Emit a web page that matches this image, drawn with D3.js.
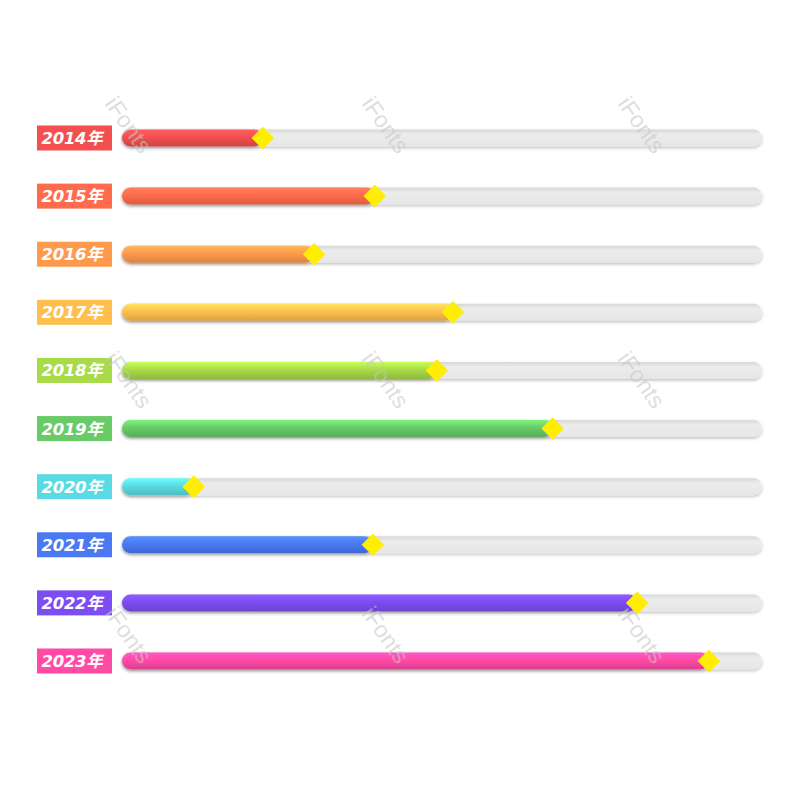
<!DOCTYPE html>
<html><head><meta charset="utf-8">
<script src="https://cdn.jsdelivr.net/npm/d3@7"></script>
<style>html,body{margin:0;padding:0;background:#fff;}</style>
</head><body>
<svg id="chart" width="800" height="800"></svg>
<script>
const years = ["2014年","2015年","2016年","2017年","2018年","2019年","2020年","2021年","2022年","2023年"];
const values = [22, 39.5, 30, 51.7, 49.2, 67.3, 11.2, 39.2, 80.5, 91.7];
const colors = ["#f34f50","#ff6b4c","#ff9a4c","#ffbf4e","#a8db47","#68cb68","#5adbe3","#4a79f3","#7c4df3","#ff4aa6"];
const watermarks = [[127,126],[384,126],[640,126],[127,381],[384,381],[640,381],[127,636],[384,636],[640,636]];

const svg = d3.select("#chart");
const defs = svg.append("defs");
const sh = defs.append("filter").attr("id","shadow").attr("x","-10%").attr("y","-60%").attr("width","120%").attr("height","250%");
sh.append("feDropShadow").attr("dx",0).attr("dy",1.5).attr("stdDeviation",1.5).attr("flood-color","#000").attr("flood-opacity",0.25);

colors.forEach((c,i)=>{
  const g = defs.append("linearGradient").attr("id","g"+i).attr("x1",0).attr("y1",0).attr("x2",0).attr("y2",1);
  g.append("stop").attr("offset","0%").attr("stop-color", d3.color(c).brighter(0.5));
  g.append("stop").attr("offset","45%").attr("stop-color", c);
  g.append("stop").attr("offset","100%").attr("stop-color", d3.color(c).darker(0.45));
});
const tg = defs.append("linearGradient").attr("id","tg").attr("x1",0).attr("y1",0).attr("x2",0).attr("y2",1);
tg.append("stop").attr("offset","0%").attr("stop-color","#d8d8d8");
tg.append("stop").attr("offset","30%").attr("stop-color","#ececec");
tg.append("stop").attr("offset","100%").attr("stop-color","#e6e6e6");

const x = d3.scaleLinear().domain([0,100]).range([122,762]);
const y = d3.scalePoint().domain(years).range([138,661]);
const bh = 17;

const rows = svg.append("g").selectAll("g").data(years).join("g");

rows.append("rect").attr("x",x(0)).attr("y",d=>y(d)-bh/2).attr("width",x(100)-x(0)).attr("height",bh)
  .attr("rx",bh/2).attr("fill","url(#tg)").attr("filter","url(#shadow)");

rows.append("rect").attr("x",x(0)).attr("y",d=>y(d)-bh/2).attr("width",(d,i)=>x(values[i])-x(0)).attr("height",bh)
  .attr("rx",bh/2).attr("fill",(d,i)=>`url(#g${i})`).attr("filter","url(#shadow)");

rows.append("rect").attr("x",37).attr("y",d=>y(d)-12.5).attr("width",75).attr("height",25)
  .attr("fill",(d,i)=>colors[i]);

rows.append("text").attr("x",72).attr("y",d=>y(d)+6)
  .attr("text-anchor","middle").attr("fill","#fff")
  .attr("font-family","DejaVu Sans, Noto Sans CJK SC, sans-serif").attr("font-weight","bold").attr("font-style","italic")
  .attr("font-size",16.5).attr("letter-spacing",-0.3).text(d=>d);

rows.append("rect").attr("x",-8).attr("y",-8).attr("width",16).attr("height",16)
  .attr("transform",(d,i)=>`translate(${x(values[i])},${y(d)}) rotate(45)`)
  .attr("fill","#ffee00");

// watermarks (on top, faint)
svg.append("g").selectAll("text").data(watermarks).join("text")
  .attr("transform", d=>`translate(${d[0]},${d[1]}) rotate(55)`)
  .attr("font-family","Liberation Sans, Arial, sans-serif").attr("font-size",23)
  .attr("fill","#c8c8c8").attr("fill-opacity",0.6).attr("dominant-baseline","middle")
  .attr("text-anchor","middle").text("iFonts");
</script>
</body></html>
